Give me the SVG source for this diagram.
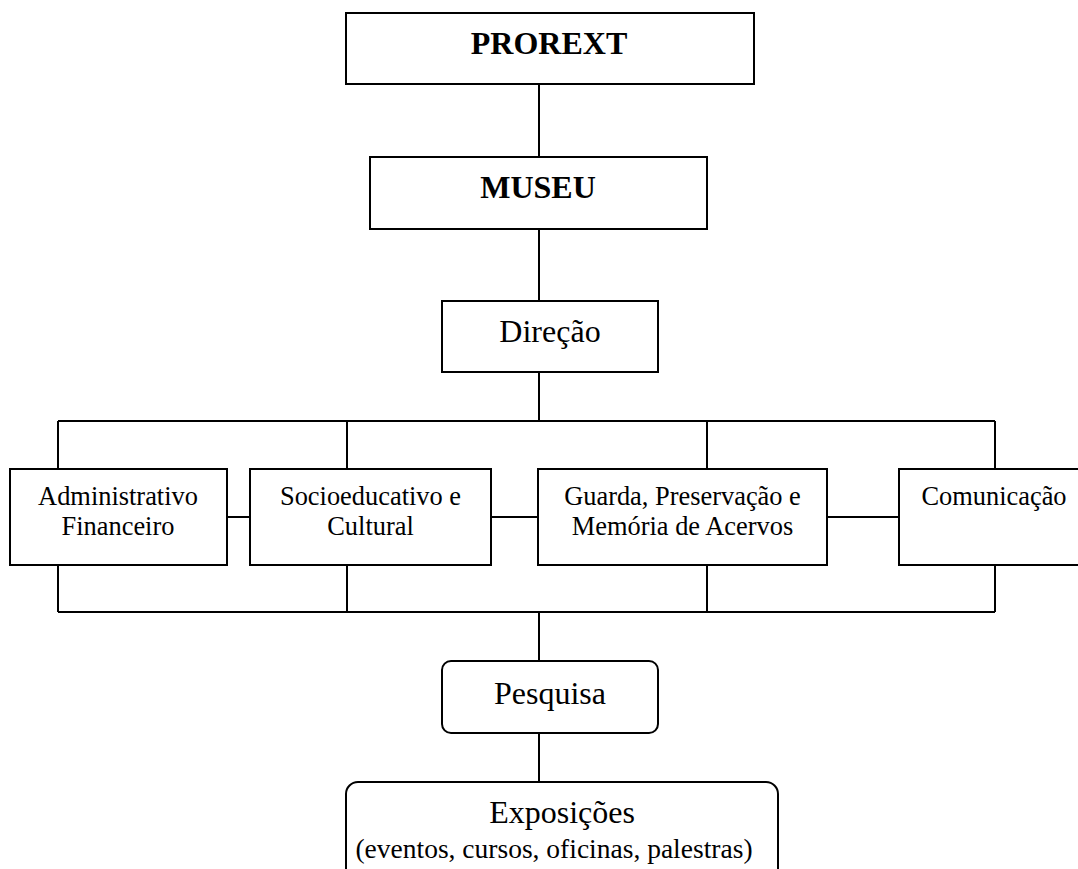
<svg xmlns="http://www.w3.org/2000/svg" width="1078" height="869" viewBox="0 0 1078 869">
<style>
.box{fill:#fff;stroke:#000;stroke-width:2}
.ln{fill:none;stroke:#000;stroke-width:2}
text{font-family:"Liberation Serif","Times New Roman",serif;fill:#000;text-anchor:middle}
.b{font-weight:bold;font-size:32px}
.l{font-size:32px}
.s{font-size:26.4px}
</style>
<rect width="1078" height="869" fill="#fff"/>
<g id="connectors">
<path class="ln" d="M539 84V157M539 229V301M539 372V421M58 421H995M58 421V469M347 421V469M707 421V469M995 421V469"/>
<path class="ln" d="M227 517H250M491 517H538M827 517H899"/>
<path class="ln" d="M58 565V612M347 565V612M707 565V612M995 565V612M58 612H995M539 612V661M539 733V782"/>
</g>
<g id="prorext"><rect class="box" x="346" y="13" width="408" height="71"/><text class="b" x="549" y="54">PROREXT</text></g>
<g id="museu"><rect class="box" x="370" y="157" width="337" height="72"/><text class="b" x="538" y="198">MUSEU</text></g>
<g id="direcao"><rect class="box" x="442" y="301" width="216" height="71"/><text class="l" x="550" y="342">Direção</text></g>
<g id="administrativo"><rect class="box" x="10" y="469" width="217" height="96"/><text class="s" x="118" y="505">Administrativo</text><text class="s" x="118" y="535">Financeiro</text></g>
<g id="socioeducativo"><rect class="box" x="250" y="469" width="241" height="96"/><text class="s" x="370.5" y="505">Socioeducativo e</text><text class="s" x="370.5" y="535">Cultural</text></g>
<g id="guarda"><rect class="box" x="538" y="469" width="289" height="96"/><text class="s" x="682.5" y="505">Guarda, Preservação e</text><text class="s" x="682.5" y="535">Memória de Acervos</text></g>
<g id="comunicacao"><rect class="box" x="899" y="469" width="192" height="96"/><text class="s" x="994" y="505">Comunicação</text></g>
<g id="pesquisa"><rect class="box" x="442" y="661" width="216" height="72" rx="9"/><text class="l" x="550" y="704">Pesquisa</text></g>
<g id="exposicoes"><rect class="box" x="346" y="782" width="432" height="130" rx="12"/><text class="l" x="562" y="823">Exposições</text><text x="554" y="858" style="font-size:27.5px">(eventos, cursos, oficinas, palestras)</text></g>
</svg>
